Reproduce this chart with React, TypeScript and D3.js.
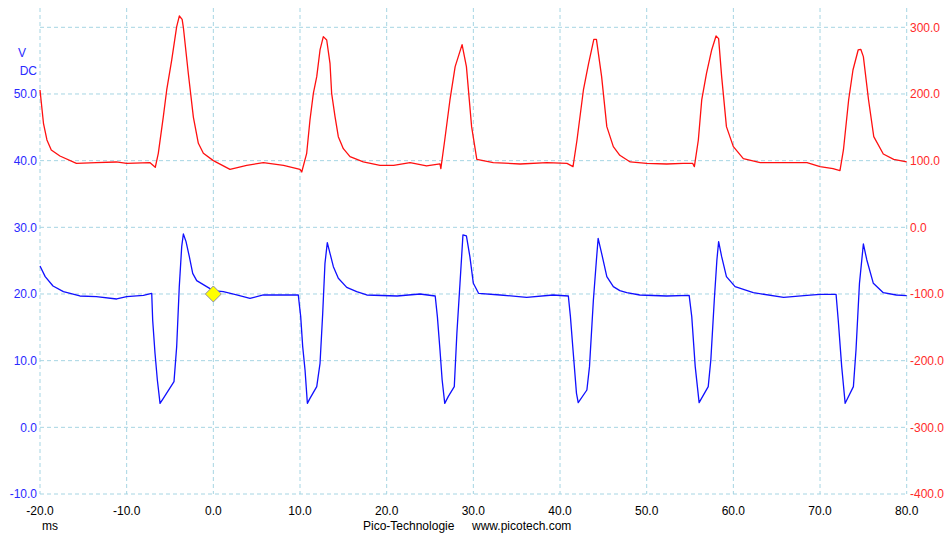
import React from "react";
import * as d3 from "d3";

// ---- data ----
const timeTicks = [-20, -10, 0, 10, 20, 30, 40, 50, 60, 70, 80];
const leftTicks = [-10, 0, 10, 20, 30, 40, 50];
const rightTicks = [-400, -300, -200, -100, 0, 100, 200, 300];
const gridLevels = [-10, 0, 10, 20, 30, 40, 50, 60];

// Channel B (red, right axis)
const redT = [
  -20, -19.6, -19.2, -18.7, -17.7, -15.8, -13.5, -11.2, -10, -7.3, -6.7, -6.35, -5.77, -5.38, -4.8, -4.23, -3.92, -3.6,
  -3.46, -2.88, -2.3, -1.73, -1.15, 0, 1.92, 3.85, 5.77, 8.1, 10, 10.2, 10.77, 11.15, 11.54, 11.93, 12.31, 12.69, 13.08,
  13.46, 13.65, 14.04, 14.42, 15.0, 15.77, 17.3, 19.23, 20.8, 22.7, 24.6, 26.15, 26.25, 26.7, 27.3, 27.9, 28.7, 29.2,
  29.8, 30.4, 32.3, 35.4, 38.5, 40.8, 41.5, 41.96, 42.7, 43.3, 43.9, 44.2, 44.8, 45.4, 46.15, 46.9, 48.1, 50, 52.3, 54.2,
  55.3, 55.5, 55.96, 56.35, 56.9, 57.5, 58, 58.3, 58.65, 59.2, 60, 61.15, 63.1, 66.15, 68.5, 70, 71.5, 72.3, 72.7, 73.3,
  73.8, 74.4, 74.7, 75, 75.6, 76.2, 77.3, 78.5, 80,
];
const redV = [
  206, 156, 131, 116, 107, 96, 97, 98, 96, 97, 90, 111, 166, 206, 251, 301, 317, 312,
  300, 230, 165, 126, 111, 100, 87, 93, 97, 93, 87, 83, 111, 161, 201, 226, 266, 286, 281,
  246, 201, 166, 136, 118, 106, 98, 93, 93, 97, 92, 95, 88, 131, 191, 241, 274, 241,
  151, 102, 97, 95, 97, 96, 91, 131, 206, 246, 282, 282, 226, 151, 121, 108, 98, 96, 95, 96,
  96, 91, 131, 191, 231, 266, 287, 283, 226, 151, 121, 103, 97, 97, 97, 91, 88, 85, 116, 191,
  236, 266, 267, 256, 191, 136, 110, 102, 98,
];

// Channel A (blue, left axis)
const blueT = [
  -20, -19.4, -18.5, -17.3, -15.4, -13.5, -11.15, -10, -8.07, -7.11, -7.0, -6.73, -6.46, -6.15, -5.77, -4.54, -4.23,
  -3.93, -3.65, -3.46, -3.15, -2.77, -2.38, -1.92, -0.77, 0, 1.15, 2.69, 4.23, 5.77, 8.1, 9.8, 10.08, 10.31, 10.58,
  10.85, 11.15, 11.93, 12.31, 12.62, 12.88, 13.15, 13.46, 13.85, 14.42, 15.39, 16.54, 17.7, 21.2, 23.85, 25.6, 25.85,
  26.15, 26.4, 26.7, 27.1, 27.8, 28.1, 28.46, 28.8, 29.2, 29.6, 30.0, 30.6, 33.1, 36.15, 39.2, 40.96, 41.2, 41.5, 41.9,
  42.1, 43.1, 43.4, 43.85, 44.2, 44.4, 44.8, 45.4, 46.15, 46.9, 47.7, 49.2, 52.3, 54.9, 55.2, 55.6, 56.05, 57.1, 57.4,
  57.8, 58.1, 58.3, 58.65, 59.2, 60.2, 62.3, 65.8, 68.5, 70, 71.85, 72.1, 72.5, 72.9, 73.85, 74.15, 74.55, 75, 75.4,
  76.15, 77.3, 78.8, 80,
];
const blueV = [
  24.2, 22.6, 21.2, 20.35, 19.7, 19.6, 19.25, 19.6, 19.8, 20.1, 16.1, 11.1, 7.1, 3.6, 4.35, 6.85, 12.1,
  21.1, 27.1, 29.0, 27.85, 25.6, 23.1, 22.0, 21.1, 20.5, 20.35, 19.85, 19.35, 19.85, 19.85, 19.85, 16.6, 12.1, 8.6,
  3.6, 4.35, 6.1, 9.6, 17.1, 24.6, 27.7, 26.1, 24.1, 22.35, 21.0, 20.35, 19.85, 19.7, 20.0, 19.7, 16.6,
  11.6, 7.1, 3.6, 4.6, 6.1, 14.1, 21.6, 28.85, 28.7, 25.6, 21.6, 20.1, 19.85, 19.5, 19.85, 19.7, 16.6, 11.6, 5.1,
  3.7, 5.6, 9.1, 19.1, 25.1, 28.35, 26.1, 22.6, 21.1, 20.5, 20.2, 19.85, 19.7, 19.8, 16.6, 9.1, 3.7, 6.1, 10.1,
  19.1, 25.1, 27.85, 25.6, 22.6, 21.1, 20.2, 19.5, 19.8, 19.95, 19.95, 16.1, 9.1, 3.6, 6.1, 11.6, 21.6, 27.5, 25.1,
  21.6, 20.2, 19.85, 19.75,
];

const markerT = 0;
const markerV = 20;

const W = 946;
const H = 533;
const FONT = "'Liberation Sans', Arial, sans-serif";

export default function App() {
  const x = d3.scaleLinear().domain([-20, 80]).range([40, 906.7]);
  const yL = d3.scaleLinear().domain([-10, 60]).range([494, 27.3]);
  const yR = d3.scaleLinear().domain([-400, 300]).range([494, 27.3]);

  const redPts: [number, number][] = redT.map((t, i) => [t, redV[i]]);
  const bluePts: [number, number][] = blueT.map((t, i) => [t, blueV[i]]);

  const redLine = d3
    .line<[number, number]>()
    .x((d) => x(d[0]))
    .y((d) => yR(d[1]))(redPts);
  const blueLine = d3
    .line<[number, number]>()
    .x((d) => x(d[0]))
    .y((d) => yL(d[1]))(bluePts);

  const grid = "#a6d5e3";
  const mx = x(markerT);
  const my = yL(markerV);
  const r = 8;

  return (
    <svg
      width={W}
      height={H}
      style={{ position: "absolute", left: 0, top: 0, background: "#fff" }}
      fontFamily={FONT}
      fontSize={12}
    >
      <rect x={0} y={0} width={W} height={H} fill="#fff" />
      {/* grid */}
      {timeTicks.map((t) => (
        <line
          key={"v" + t}
          x1={x(t)}
          x2={x(t)}
          y1={8}
          y2={yL(-10)}
          stroke={grid}
          strokeWidth={1}
          strokeDasharray="4,3"
        />
      ))}
      {gridLevels.map((v) => (
        <line
          key={"h" + v}
          x1={x(-20)}
          x2={x(80)}
          y1={yL(v)}
          y2={yL(v)}
          stroke={grid}
          strokeWidth={1}
          strokeDasharray="4,3"
        />
      ))}

      {/* traces */}
      <path d={redLine || ""} fill="none" stroke="#ff1010" strokeWidth={1.3} strokeLinejoin="round" />
      <path d={blueLine || ""} fill="none" stroke="#1010ff" strokeWidth={1.3} strokeLinejoin="round" />

      {/* cursor marker */}
      <polygon
        points={`${mx},${my - r} ${mx + r},${my} ${mx},${my + r} ${mx - r},${my}`}
        fill="#ffff00"
        stroke="#8a8aa8"
        strokeWidth={1}
      />

      {/* left axis */}
      <text x={18} y={57} fill="#2a2aff">V</text>
      <text x={37} y={75} fill="#2a2aff" textAnchor="end">DC</text>
      {leftTicks.map((v) => (
        <text key={"l" + v} x={37} y={yL(v)} dy="0.35em" textAnchor="end" fill="#2a2aff">
          {v.toFixed(1)}
        </text>
      ))}

      {/* right axis */}
      {rightTicks.map((v) => (
        <text key={"r" + v} x={910} y={yR(v)} dy="0.35em" textAnchor="start" fill="#ff2a2a">
          {v.toFixed(1)}
        </text>
      ))}

      {/* bottom axis */}
      {timeTicks.map((t) => (
        <text key={"b" + t} x={x(t)} y={515} textAnchor="middle" fill="#000">
          {t.toFixed(1)}
        </text>
      ))}
      <text x={42} y={530} fill="#000">ms</text>
      <text x={363} y={530} fill="#000">Pico-Technologie</text>
      <text x={472} y={530} fill="#000">www.picotech.com</text>
    </svg>
  );
}
